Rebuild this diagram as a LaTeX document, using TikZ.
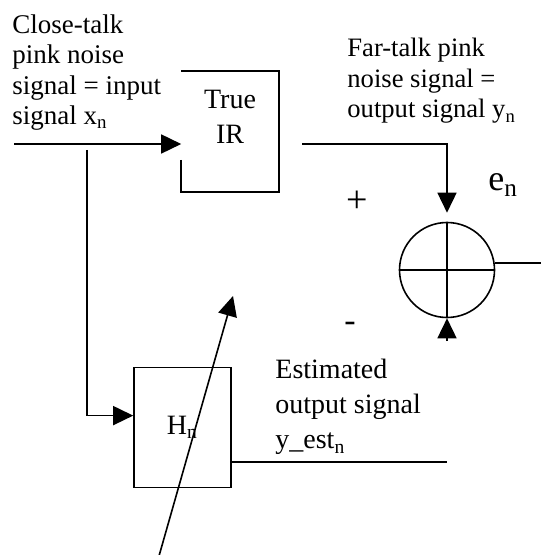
\documentclass[tikz,border=0pt]{standalone}
\usepackage{fontspec}
\setmainfont{Liberation Serif}
\usetikzlibrary{arrows.meta, positioning}
\tikzset{
  blk/.style={rectangle, minimum width=48pt, minimum height=59.5pt,
              inner sep=0pt, line width=0.8pt},
  txt/.style={font=\fontsize{#1}{15.25}\selectfont, align=left, inner sep=0pt},
  txt/.default=13.5,
  ln/.style={line width=0.8pt},
  arr/.style={-{Triangle[length=10pt, width=9.5pt]}, line width=0.8pt},
}

\begin{document}
\begin{tikzpicture}[x=0.5pt, y=-0.5pt, node distance=0.5cm]
      \useasboundingbox (0,0) rectangle (541,555);

      \node[blk] (tir) at (230,131.5) {};
      \node[txt, align=center, font=\fontsize{14}{17.5}\selectfont] (tirlbl) at (230,117)
           {True\\IR};
      \node[blk, draw, minimum width=48.5pt, minimum height=60pt,
            below=87.5pt of tir, xshift=-23.75pt, font=\fontsize{14}{17}\selectfont] (hn)
           {H\textsubscript{n}};
      \node[circle, draw, ln, minimum size=47.5pt, inner sep=0pt] (sum) at (447,270) {};

      \node[txt, anchor=north west] (xlbl) at (12,14)
           {Close-talk\\pink noise\\signal = input\\signal x\textsubscript{n}};
      \node[txt=13.3, anchor=north west] (ylbl) at (347,38)
           {Far-talk pink\\noise signal =\\output signal y\textsubscript{n}};
      \node[txt, anchor=north west, font=\fontsize{14}{17.5}\selectfont] (yestlbl) at (275,359)
           {Estimated\\output signal\\y\_est\textsubscript{n}};
      \node[txt=19] (plus) at (357,202) {+};
      \node[txt=17] (minus) at (350,327) {-};
      \node[txt=18, anchor=base west] (elbl) at (488,191) {e\textsubscript{n}};

      \coordinate (xin) at (14,144);
      \coordinate (split) at (87,150);
      \coordinate (yout) at (302,144);
      \coordinate (yestin) at (447,341);
      \coordinate (yest) at (447,462);
      \coordinate (eout) at (541,263);
      \coordinate (adjfrom) at (159,556);
      \coordinate (adjto) at (233,296);

      \draw[ln] ([yshift=16pt]tir.south west) -- (tir.south west) -- (tir.south east)
                -- (tir.north east) -- (tir.north west);
      \draw[arr] (xin) -- (xin -| tir.west);
      \draw[arr] (split) |- ([yshift=6pt]hn.west);
      \draw[arr] (yout) -| ([yshift=4.5pt]sum.north);
      \draw[arr] (yestin) -- (sum.south);
      \draw[ln]  (sum.north) -- (sum.south);
      \draw[ln]  (sum.west) -- (sum.east);
      \draw[ln]  (sum.east |- eout) -- (eout);
      \draw[ln]  (hn.east |- yest) -- (yest);
      \draw[arr] (adjfrom) -- (adjto);
    \end{tikzpicture}
\end{document}
